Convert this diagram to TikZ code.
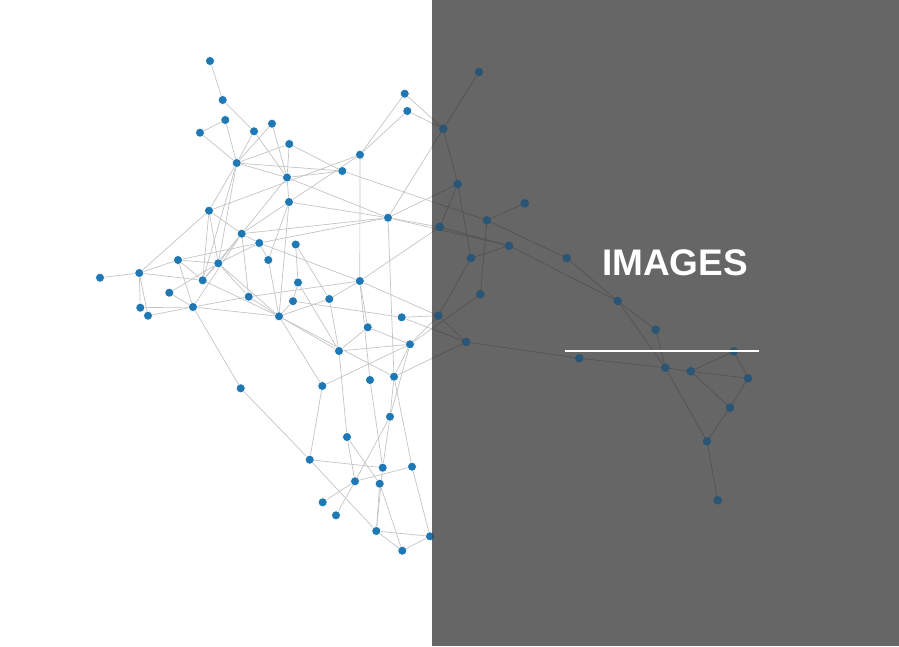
\documentclass[tikz,border=0pt]{standalone}
\usepackage{fontspec}
\setmainfont{Liberation Sans}
\pgfdeclarelayer{edgelayer}
\pgfdeclarelayer{shade}
\pgfsetlayers{edgelayer,main,shade}
\definecolor{nodeblue}{HTML}{1F77B4}
\definecolor{nodedark}{HTML}{2A5574}
\definecolor{edgelight}{HTML}{C4C4C4}
\definecolor{edgedark}{HTML}{535353}
\definecolor{panel}{HTML}{666666}
\tikzset{
  dot/.style={circle,fill=nodeblue,draw=white,line width=0.6pt,inner sep=0pt,minimum size=9pt},
  edge/.style={draw=edgelight,line width=0.7pt},
  edgeshade/.style={draw=edgedark,line width=0.7pt},
  title/.style={text=white,font=\bfseries\fontsize{37}{40}\selectfont,inner sep=0pt}
}
\def\nodelist{1/210/61,2/222.7/100,3/225.3/120,4/200/132.7,5/254/131.3,6/272/123.7,7/289.3/144,8/236.7/163,9/360/154.7,10/342.3/171,11/287/177.5,12/404.7/93.7,13/407.3/111,14/443.3/128.7,15/479/72,16/457.7/184,17/524.7/203.3,18/487/220.3,19/439.7/227,20/509/245.7,21/471/258,22/566.7/258,23/480.3/294.3,24/438.3/315.7,25/466/342,26/617.7/301,27/655.7/329.7,28/733.7/351.3,29/579.3/358.3,30/665.3/367.7,31/690.7/371.3,32/748/378.3,33/730/407.7,34/707/441.3,35/717.7/500.3,36/289/202,37/209/210.7,38/388/217.7,39/241.7/233.7,40/259.3/243,41/295.7/244.5,42/218.3/263.3,43/268.3/260,44/178/260,45/139.3/273,46/100/277.7,47/202.7/280.3,48/169.3/292.7,49/298/282.5,50/359.8/281,51/248.7/296.7,52/293/301.2,53/329.3/299,54/140.3/307.7,55/148/315.7,56/193/307,57/279/316.3,58/401.7/317.3,59/367.7/327.3,60/410/344.3,61/339/351,62/370/380,63/394/376.7,64/322.3/386,65/240.7/388.3,66/390/416.7,67/347/437,68/309.7/459.7,69/382.7/467.7,70/412/466.7,71/355/481.3,72/379.7/483.7,73/322.7/502.3,74/336/515.3,75/376.3/531,76/430/536.3,77/402.3/550.7}
\def\edgelist{1/2,2/5,4/3,4/8,3/8,5/8,6/8,7/8,5/11,6/11,7/11,7/10,8/10,8/11,12/9,13/9,12/14,13/14,15/14,14/16,14/38,9/50,10/11,10/18,11/38,16/19,16/21,16/38,18/17,18/23,19/20,38/19,38/20,20/21,20/26,18/22,22/26,21/24,23/60,58/24,24/60,58/25,25/63,25/29,24/25,26/27,26/30,27/30,29/30,30/31,31/28,31/32,31/33,28/32,32/33,33/34,30/34,34/35,46/45,45/37,45/44,45/47,45/54,45/55,54/56,55/56,48/56,48/42,44/47,44/56,44/40,44/42,37/42,37/47,37/39,37/9,37/8,8/42,8/47,56/51,56/57,56/65,65/68,64/68,57/61,57/63,57/64,64/60,61/60,61/59,53/61,49/61,61/67,50/62,50/59,50/19,50/24,53/50,51/50,40/50,40/38,39/38,41/49,41/53,49/52,52/58,52/57,57/53,51/57,47/57,59/60,38/63,63/66,60/66,63/70,66/69,66/71,62/69,67/71,67/72,68/69,68/75,71/70,71/73,71/74,72/75,69/75,72/77,75/76,75/77,77/76,70/76,11/36,36/39,36/9,36/43,36/57,39/40,39/42,39/47,39/51,39/56,40/43,40/42,43/57,42/47,42/57,42/51,11/39,36/38,60/63}
\begin{document}
\begin{tikzpicture}[x=1pt,y=-1pt]
\useasboundingbox (0,0) rectangle (899,646);
\foreach \i/\x/\y in \nodelist {\node[dot] (n\i) at (\x,\y) {};}
\begin{pgfonlayer}{edgelayer}
\foreach \a/\b in \edgelist {\draw[edge] (n\a.center) -- (n\b.center);}
\end{pgfonlayer}
\begin{pgfonlayer}{shade}
\fill[panel] (432,0) rectangle (899,646);
\begin{scope}
\clip (432,0) rectangle (899,646);
\foreach \a/\b in \edgelist {\draw[edgeshade] (n\a.center) -- (n\b.center);}
\foreach \i/\x/\y in \nodelist {\fill[nodedark] (n\i.center) circle (4.3);}
\end{scope}
\node[title] (heading) at (675,263) {IMAGES};
\coordinate (rulestart) at (565,351);
\coordinate (ruleend) at (759,351);
\draw[white,line width=2.2pt] (rulestart) -- (ruleend);
\end{pgfonlayer}
\end{tikzpicture}
\end{document}
